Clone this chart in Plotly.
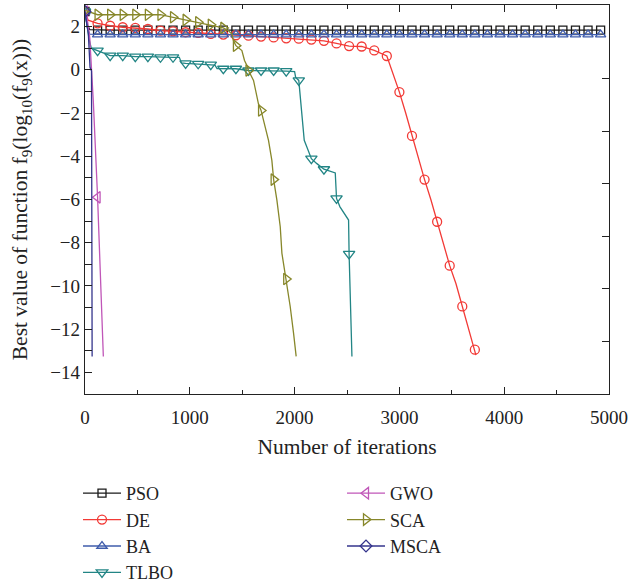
import plotly.graph_objects as go

# ---------------- data ----------------
MARK_STEP = 120  # markers drawn every 120 iterations
MARK_IT = list(range(0, 5001, MARK_STEP))

SERIES = ["PSO", "DE", "BA", "TLBO", "GWO", "SCA", "MSCA"]

PSO_IT = [0, 20, 45] + MARK_IT[1:] + [5000]
PSO_VAL = [2.70, 2.10, 1.86,
           1.84, 1.84, 1.84, 1.84, 1.84, 1.84, 1.84, 1.84, 1.84, 1.84,
           1.84, 1.84, 1.84, 1.84, 1.84, 1.84, 1.84, 1.84, 1.84, 1.84,
           1.84, 1.84, 1.84, 1.84, 1.84, 1.84, 1.84, 1.84, 1.84, 1.84,
           1.84, 1.84, 1.84, 1.84, 1.84, 1.84, 1.84, 1.84, 1.84, 1.84,
           1.84]

BA_IT = [0, 20, 45] + MARK_IT[1:] + [5000]
BA_VAL = [2.70, 2.00, 1.65,
          1.63, 1.63, 1.63, 1.63, 1.63, 1.63, 1.63, 1.63, 1.63, 1.63,
          1.63, 1.63, 1.63, 1.63, 1.63, 1.63, 1.63, 1.63, 1.63, 1.63,
          1.63, 1.63, 1.63, 1.63, 1.63, 1.63, 1.63, 1.63, 1.63, 1.63,
          1.63, 1.63, 1.63, 1.63, 1.63, 1.63, 1.63, 1.63, 1.63, 1.63,
          1.63]

DE_IT = [0, 30, 120, 240, 360, 480, 600, 720, 840, 960, 1080, 1200, 1320,
         1440, 1560, 1680, 1800, 1920, 2040, 2160, 2280, 2400, 2520, 2640,
         2760, 2880, 2940, 3000, 3060, 3120, 3180, 3240, 3300, 3360, 3420,
         3480, 3540, 3600, 3660, 3720, 3730]
DE_VAL = [2.70, 2.30, 2.15, 2.04, 1.97, 1.94, 1.89, 1.81, 1.78, 1.74, 1.71,
          1.66, 1.63, 1.60, 1.58, 1.54, 1.50, 1.46, 1.44, 1.40, 1.34, 1.22,
          1.10, 1.08, 0.90, 0.64, -0.15, -1.03, -2.00, -3.06, -4.10, -5.08,
          -6.00, -7.03, -8.10, -9.06, -9.90, -10.95, -11.90, -12.95, -13.20]

TLBO_IT = [0, 20, 40, 60, 120, 240, 360, 480, 600, 720, 840, 900, 920, 960,
           1080, 1200, 1240, 1260, 1320, 1440, 1560, 1680, 1800, 1920, 2000,
           2010, 2040, 2050, 2065, 2080, 2092, 2117, 2160, 2213, 2280, 2388,
           2397, 2400, 2433, 2515, 2520, 2547]
TLBO_VAL = [2.70, 2.00, 1.40, 1.00, 0.89, 0.66, 0.66, 0.61, 0.61, 0.58, 0.58,
            0.58, 0.32, 0.30, 0.28, 0.24, 0.22, 0.06, 0.05, 0.05, -0.03,
            -0.03, -0.03, -0.06, -0.08, -0.35, -0.49, -1.00, -1.80, -2.50,
            -3.26, -3.57, -4.11, -4.34, -4.60, -4.77, -5.72, -5.95, -6.34,
            -6.95, -8.52, -13.26]

GWO_IT = [0, 20, 45, 79, 120, 175]
GWO_VAL = [2.70, 2.40, 1.50, -1.42, -5.90, -13.26]

SCA_IT = [0, 120, 240, 360, 480, 600, 720, 840, 960, 1080, 1200, 1320, 1369,
          1401, 1417, 1440, 1497, 1522, 1545, 1560, 1608, 1633, 1655, 1680,
          1703, 1751, 1783, 1800, 1831, 1863, 1879, 1920, 1958, 1990, 2015]
SCA_VAL = [2.75, 2.55, 2.55, 2.55, 2.55, 2.55, 2.55, 2.43, 2.31, 2.20, 2.09,
           1.94, 1.81, 1.66, 1.35, 1.12, 0.89, 0.43, 0.20, -0.03, -0.49,
           -1.10, -1.57, -1.88, -2.34, -3.26, -4.19, -5.08, -6.03, -7.26,
           -8.49, -9.68, -10.95, -12.18, -13.26]

MSCA_IT = [0, 10, 32, 48, 62, 68]
MSCA_VAL = [2.70, 2.30, 1.66, 0.12, -0.05, -13.26]

RIGHT_TICKS = [-0.41, -2.85, -5.28, -7.70, -10.13, -12.55]

# ---------------- styles ----------------
COLORS = {"PSO": "#1a1a1a", "DE": "#f23a36", "BA": "#3f5cab", "TLBO": "#228585",
          "GWO": "#c056b8", "SCA": "#87872a", "MSCA": "#34348c"}
SYMBOLS = {"PSO": "square-open", "DE": "circle-open", "BA": "triangle-up-open",
           "TLBO": "triangle-down-open", "GWO": "triangle-left-open",
           "SCA": "triangle-right-open", "MSCA": "diamond-open"}
SIZES = {"PSO": 8, "DE": 9, "BA": 9, "TLBO": 10, "GWO": 10, "SCA": 10, "MSCA": 9}
DATA = {"PSO": (PSO_IT, PSO_VAL), "DE": (DE_IT, DE_VAL), "BA": (BA_IT, BA_VAL),
        "TLBO": (TLBO_IT, TLBO_VAL), "GWO": (GWO_IT, GWO_VAL),
        "SCA": (SCA_IT, SCA_VAL), "MSCA": (MSCA_IT, MSCA_VAL)}
LEGEND_OF = {"PSO": "legend", "DE": "legend", "BA": "legend", "TLBO": "legend",
             "GWO": "legend2", "SCA": "legend2", "MSCA": "legend2"}

FONT = "Liberation Serif"
W, H = 630, 584
ML, MR, MT, MB = 85, 21, 5, 190
PW, PH = W - ML - MR, H - MT - MB


def px_x(p):
    return (p - ML) / PW


def px_y(p):
    return (H - MB - p) / PH


fig = go.Figure()
for name in SERIES:
    xs, ys = DATA[name]
    c = COLORS[name]
    fig.add_trace(go.Scatter(x=xs, y=ys, mode="lines", line=dict(color=c, width=1.3),
                             showlegend=False, hoverinfo="skip"))
    mx = [x for x in xs if x % MARK_STEP == 0]
    my = [y for x, y in zip(xs, ys) if x % MARK_STEP == 0]
    fig.add_trace(go.Scatter(x=mx, y=my, mode="markers",
                             marker=dict(symbol=SYMBOLS[name], size=SIZES[name], color=c,
                                         line=dict(color=c, width=1.3)),
                             showlegend=False, hoverinfo="skip"))
    fig.add_trace(go.Scatter(x=[None], y=[None], mode="lines+markers", name=name,
                             line=dict(color=c, width=1.3),
                             marker=dict(symbol=SYMBOLS[name], size=SIZES[name], color=c,
                                         line=dict(color=c, width=1.3)),
                             legend=LEGEND_OF[name]))

# right-side tick marks (independent from the left axis)
fig.add_trace(go.Scatter(x=[None], y=[None], yaxis="y2", showlegend=False, hoverinfo="skip"))

axis_common = dict(showgrid=False, zeroline=False, showline=True, linecolor="#222",
                   linewidth=1.3, ticks="inside", tickcolor="#222", tickwidth=1.2,
                   tickfont=dict(family=FONT, size=19, color="#222"), automargin=False)

legend_common = dict(xref="paper", yref="paper", xanchor="left", yanchor="top",
                     font=dict(family=FONT, size=18, color="#222"), itemwidth=38,
                     bgcolor="rgba(0,0,0,0)", tracegroupgap=0, orientation="v")

fig.update_layout(
    width=W, height=H,
    margin=dict(l=ML, r=MR, t=MT, b=MB, autoexpand=False),
    paper_bgcolor="white", plot_bgcolor="white",
    xaxis=dict(range=[0, 5000], dtick=1000, ticklen=7, mirror="ticks", ticklabelstandoff=6,
               minor=dict(dtick=500, ticks="inside", ticklen=4, tickcolor="#222", tickwidth=1.2),
               title=dict(text="Number of iterations", font=dict(family=FONT, size=21.5, color="#222"),
                          standoff=11),
               **axis_common),
    yaxis=dict(range=[-15, 3], dtick=2, ticklen=7, mirror=True,
               minor=dict(dtick=1, ticks="inside", ticklen=7, tickcolor="#222", tickwidth=1.2),
               title=dict(text="Best value of function f<sub>9</sub>(log<sub>10</sub>(f<sub>9</sub>(x)))",
                          font=dict(family=FONT, size=21.5, color="#222"), standoff=16),
               **axis_common),
    yaxis2=dict(overlaying="y", side="right", range=[-15, 3], tickvals=RIGHT_TICKS,
                showticklabels=False, ticks="inside", ticklen=7, tickcolor="#222",
                tickwidth=1.2, showgrid=False, zeroline=False, showline=False, automargin=False),
    legend=dict(x=px_x(78), y=px_y(475), **legend_common),
    legend2=dict(x=px_x(342), y=px_y(475), **legend_common),
)

fig.write_html("out.html")
